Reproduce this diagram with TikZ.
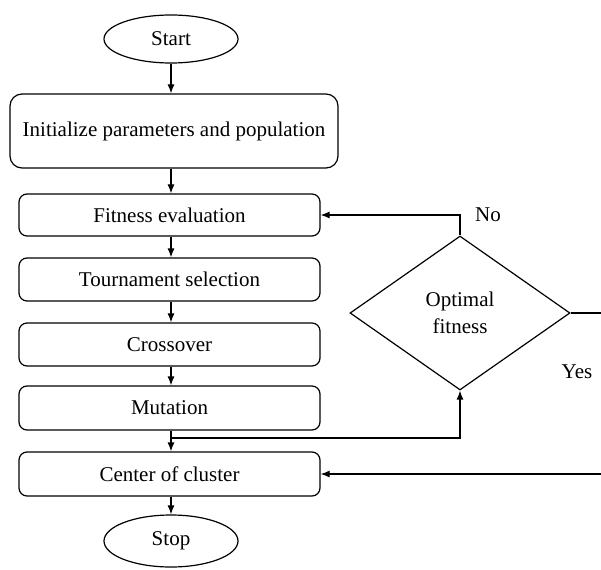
\documentclass[tikz,border=0pt]{standalone}
\usepackage{fontspec}
\setmainfont{Liberation Serif}
\usetikzlibrary{shapes.geometric, arrows.meta}

\begin{document}
\begin{tikzpicture}[> = {Latex[length = 9pt, width = 7pt]}, x = 1pt, y = -1pt,
	every node/.style = {font = \fontsize{21}{27}\selectfont},
	procbox/.style = {draw, rounded corners = 8pt, line width = 1.2pt, inner sep = 0pt},
	terminal/.style = {draw, ellipse, line width = 1.2pt, inner sep = 0pt,
		minimum width = 134pt, minimum height = 48pt},
	decision/.style = {draw, diamond, line width = 1.2pt, inner sep = 0pt,
		minimum width = 220pt, minimum height = 154pt, align = center}]

	% Page

	\useasboundingbox (0, 0) rectangle (601, 569);

	% Main column

	\node [terminal] (start) at (171, 39) {Start};
	\node [procbox, rounded corners = 12pt, minimum width = 328pt, minimum height = 74pt]
		(init) at (174, 131) {Initialize parameters and population};
	\node [procbox, minimum width = 301pt, minimum height = 42pt] (fit) at (169.5, 215) {Fitness evaluation};
	\node [procbox, minimum width = 301pt, minimum height = 43pt] (tour) at (169.5, 279.5) {Tournament selection};
	\node [procbox, minimum width = 301pt, minimum height = 43pt] (cross) at (169.5, 344.5) {Crossover};
	\node [procbox, minimum width = 301pt, minimum height = 44pt] (mut) at (169.5, 408) {Mutation};
	\node [procbox, minimum width = 301pt, minimum height = 44pt] (clust) at (169.5, 474) {Center of cluster};
	\node [terminal, minimum height = 52pt] (stop) at (171, 541) {Stop};

	% Decision

	\node [decision] (opt) at (460, 313) {Optimal\\fitness};
	\node (no) at (488, 215) {No};
	\node (yes) at (577, 372) {Yes};

	\coordinate (split) at (171, 438);
	\coordinate (noturn) at (460, 215);
	\coordinate (edgeout) at (601, 313);
	\coordinate (edgein) at (601, 474);

	% Connectors

	\begin{scope}[->, line width = 1.2pt]

		\draw (start) -- (start |- init.north);
		\draw (init.south -| start) -- (start |- fit.north);
		\draw (fit.south -| start) -- (start |- tour.north);
		\draw (tour.south -| start) -- (start |- cross.north);
		\draw (cross.south -| start) -- (start |- mut.north);
		\draw (mut.south -| start) -- (start |- clust.north);
		\draw (clust.south -| start) -- (stop);

		\draw (split) -| (opt.south);
		\draw (opt.north) -- (noturn) -- (fit.east);
		\draw [-] (opt.east) -- (edgeout);
		\draw (edgein) -- (clust.east);

	\end{scope}

\end{tikzpicture}
\end{document}
